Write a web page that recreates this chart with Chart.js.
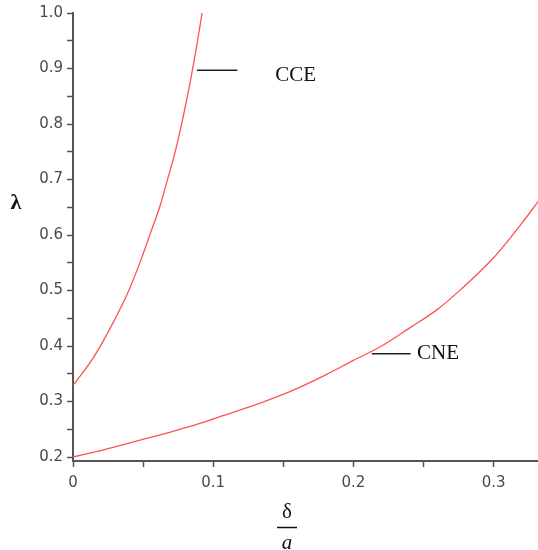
<!DOCTYPE html>
<html>
<head>
<meta charset="utf-8">
<script src="https://cdn.jsdelivr.net/npm/chart.js@4/dist/chart.umd.min.js"></script>
<style>
html,body{margin:0;padding:0;background:#fff;}
canvas{display:block;}
</style>
</head>
<body>
<canvas id="c" width="538" height="550"></canvas>
<script>
// CCE curve (delta/a, lambda)
const cceX = [0, 0.0148, 0.029, 0.0398, 0.048, 0.0552, 0.0624, 0.0671, 0.0731, 0.079, 0.0838, 0.0874, 0.0921];
const cceY = [0.329, 0.380, 0.444, 0.500, 0.552, 0.603, 0.655, 0.697, 0.752, 0.818, 0.878, 0.928, 1.0];
// CNE curve
const cneX = [0, 0.0219, 0.0386, 0.0505, 0.0695, 0.091, 0.1076, 0.129, 0.148, 0.162, 0.181, 0.200, 0.2195, 0.241, 0.260, 0.2767, 0.300, 0.3195, 0.332];
const cneY = [0.200, 0.213, 0.224, 0.232, 0.245, 0.261, 0.275, 0.293, 0.311, 0.326, 0.349, 0.374, 0.399, 0.434, 0.466, 0.502, 0.559, 0.619, 0.661];
// labels and their leader lines
const curveNames = ['CCE', 'CNE'];
const leaderX = [[0.0884, 0.1173], [0.2131, 0.2409]];
const leaderY = [0.897, 0.386];
const nameX = [0.1442, 0.2454];
const nameY = [0.887, 0.386];
// axis ranges and ticks
const xRange = [0, 0.3317];
const yRange = [0.1928, 1.0];
const tickStep = 0.05;

const pts = (xs, ys) => xs.map((x, i) => ({x: x, y: ys[i]}));
const leaderData = (k) => leaderX[k].map(x => ({x: x, y: leaderY[k]}));

const labelPlugin = {
  id: 'labels',
  afterDraw(chart) {
    const ctx = chart.ctx;
    const xs = chart.scales.x, ys = chart.scales.y;
    ctx.save();
    ctx.fillStyle = '#111';
    ctx.font = '21px "Liberation Serif", "Times New Roman", serif';
    ctx.textAlign = 'left';
    ctx.textBaseline = 'middle';
    curveNames.forEach((n, k) => {
      ctx.fillText(n, xs.getPixelForValue(nameX[k]), ys.getPixelForValue(nameY[k]));
    });
    // lambda axis title
    ctx.textAlign = 'center';
    ctx.font = 'bold 22px "Liberation Serif", serif';
    ctx.fillText('\u03BB', 16, 203);
    // delta / a title
    ctx.font = '21px "Liberation Serif", serif';
    ctx.fillText('\u03B4', 287, 512);
    ctx.strokeStyle = '#111';
    ctx.lineWidth = 1.5;
    ctx.beginPath();
    ctx.moveTo(277, 527.5);
    ctx.lineTo(297, 527.5);
    ctx.stroke();
    ctx.font = 'italic 21px "Liberation Serif", serif';
    ctx.fillText('a', 287, 543);
    ctx.restore();
  }
};

const majorLabel = (v, zero) => {
  const r = Math.round(v * 10);
  if (Math.abs(v * 10 - r) > 1e-6) return '';
  if (r === 0 && zero) return '0';
  return (r / 10).toFixed(1);
};

const axisCommon = {
  type: 'linear',
  grid: {display: true, drawOnChartArea: false, drawTicks: true, tickLength: 6, tickColor: '#555', tickWidth: 1.5},
  border: {display: true, color: '#555', width: 2},
};

new Chart(document.getElementById('c'), {
  type: 'scatter',
  data: {
    datasets: [
      {data: pts(cceX, cceY), showLine: true, borderColor: '#ff5252', borderWidth: 1.3, pointRadius: 0, cubicInterpolationMode: 'monotone'},
      {data: pts(cneX, cneY), showLine: true, borderColor: '#ff5252', borderWidth: 1.3, pointRadius: 0, cubicInterpolationMode: 'monotone'},
      {data: leaderData(0), showLine: true, borderColor: '#222', borderWidth: 1.5, pointRadius: 0},
      {data: leaderData(1), showLine: true, borderColor: '#222', borderWidth: 1.5, pointRadius: 0}
    ]
  },
  options: {
    responsive: false,
    animation: false,
    layout: {padding: {top: 12, left: 0, right: 0, bottom: 0}},
    plugins: {legend: {display: false}, tooltip: {enabled: false}},
    scales: {
      x: Object.assign({}, axisCommon, {
        min: xRange[0], max: xRange[1],
        afterFit: s => { s.height = 89; },
        ticks: {stepSize: tickStep, includeBounds: false, autoSkip: false, maxRotation: 0, padding: 7,
          color: '#4a4a4a', font: {family: '"DejaVu Sans", sans-serif', size: 15},
          callback: v => majorLabel(v, true)}
      }),
      y: Object.assign({}, axisCommon, {
        min: yRange[0], max: yRange[1],
        afterFit: s => { s.width = 73; },
        ticks: {stepSize: tickStep, includeBounds: false, autoSkip: false, padding: 4,
          color: '#4a4a4a', font: {family: '"DejaVu Sans", sans-serif', size: 15},
          callback: v => majorLabel(v, false)}
      })
    }
  },
  plugins: [labelPlugin]
});
</script>
</body>
</html>
